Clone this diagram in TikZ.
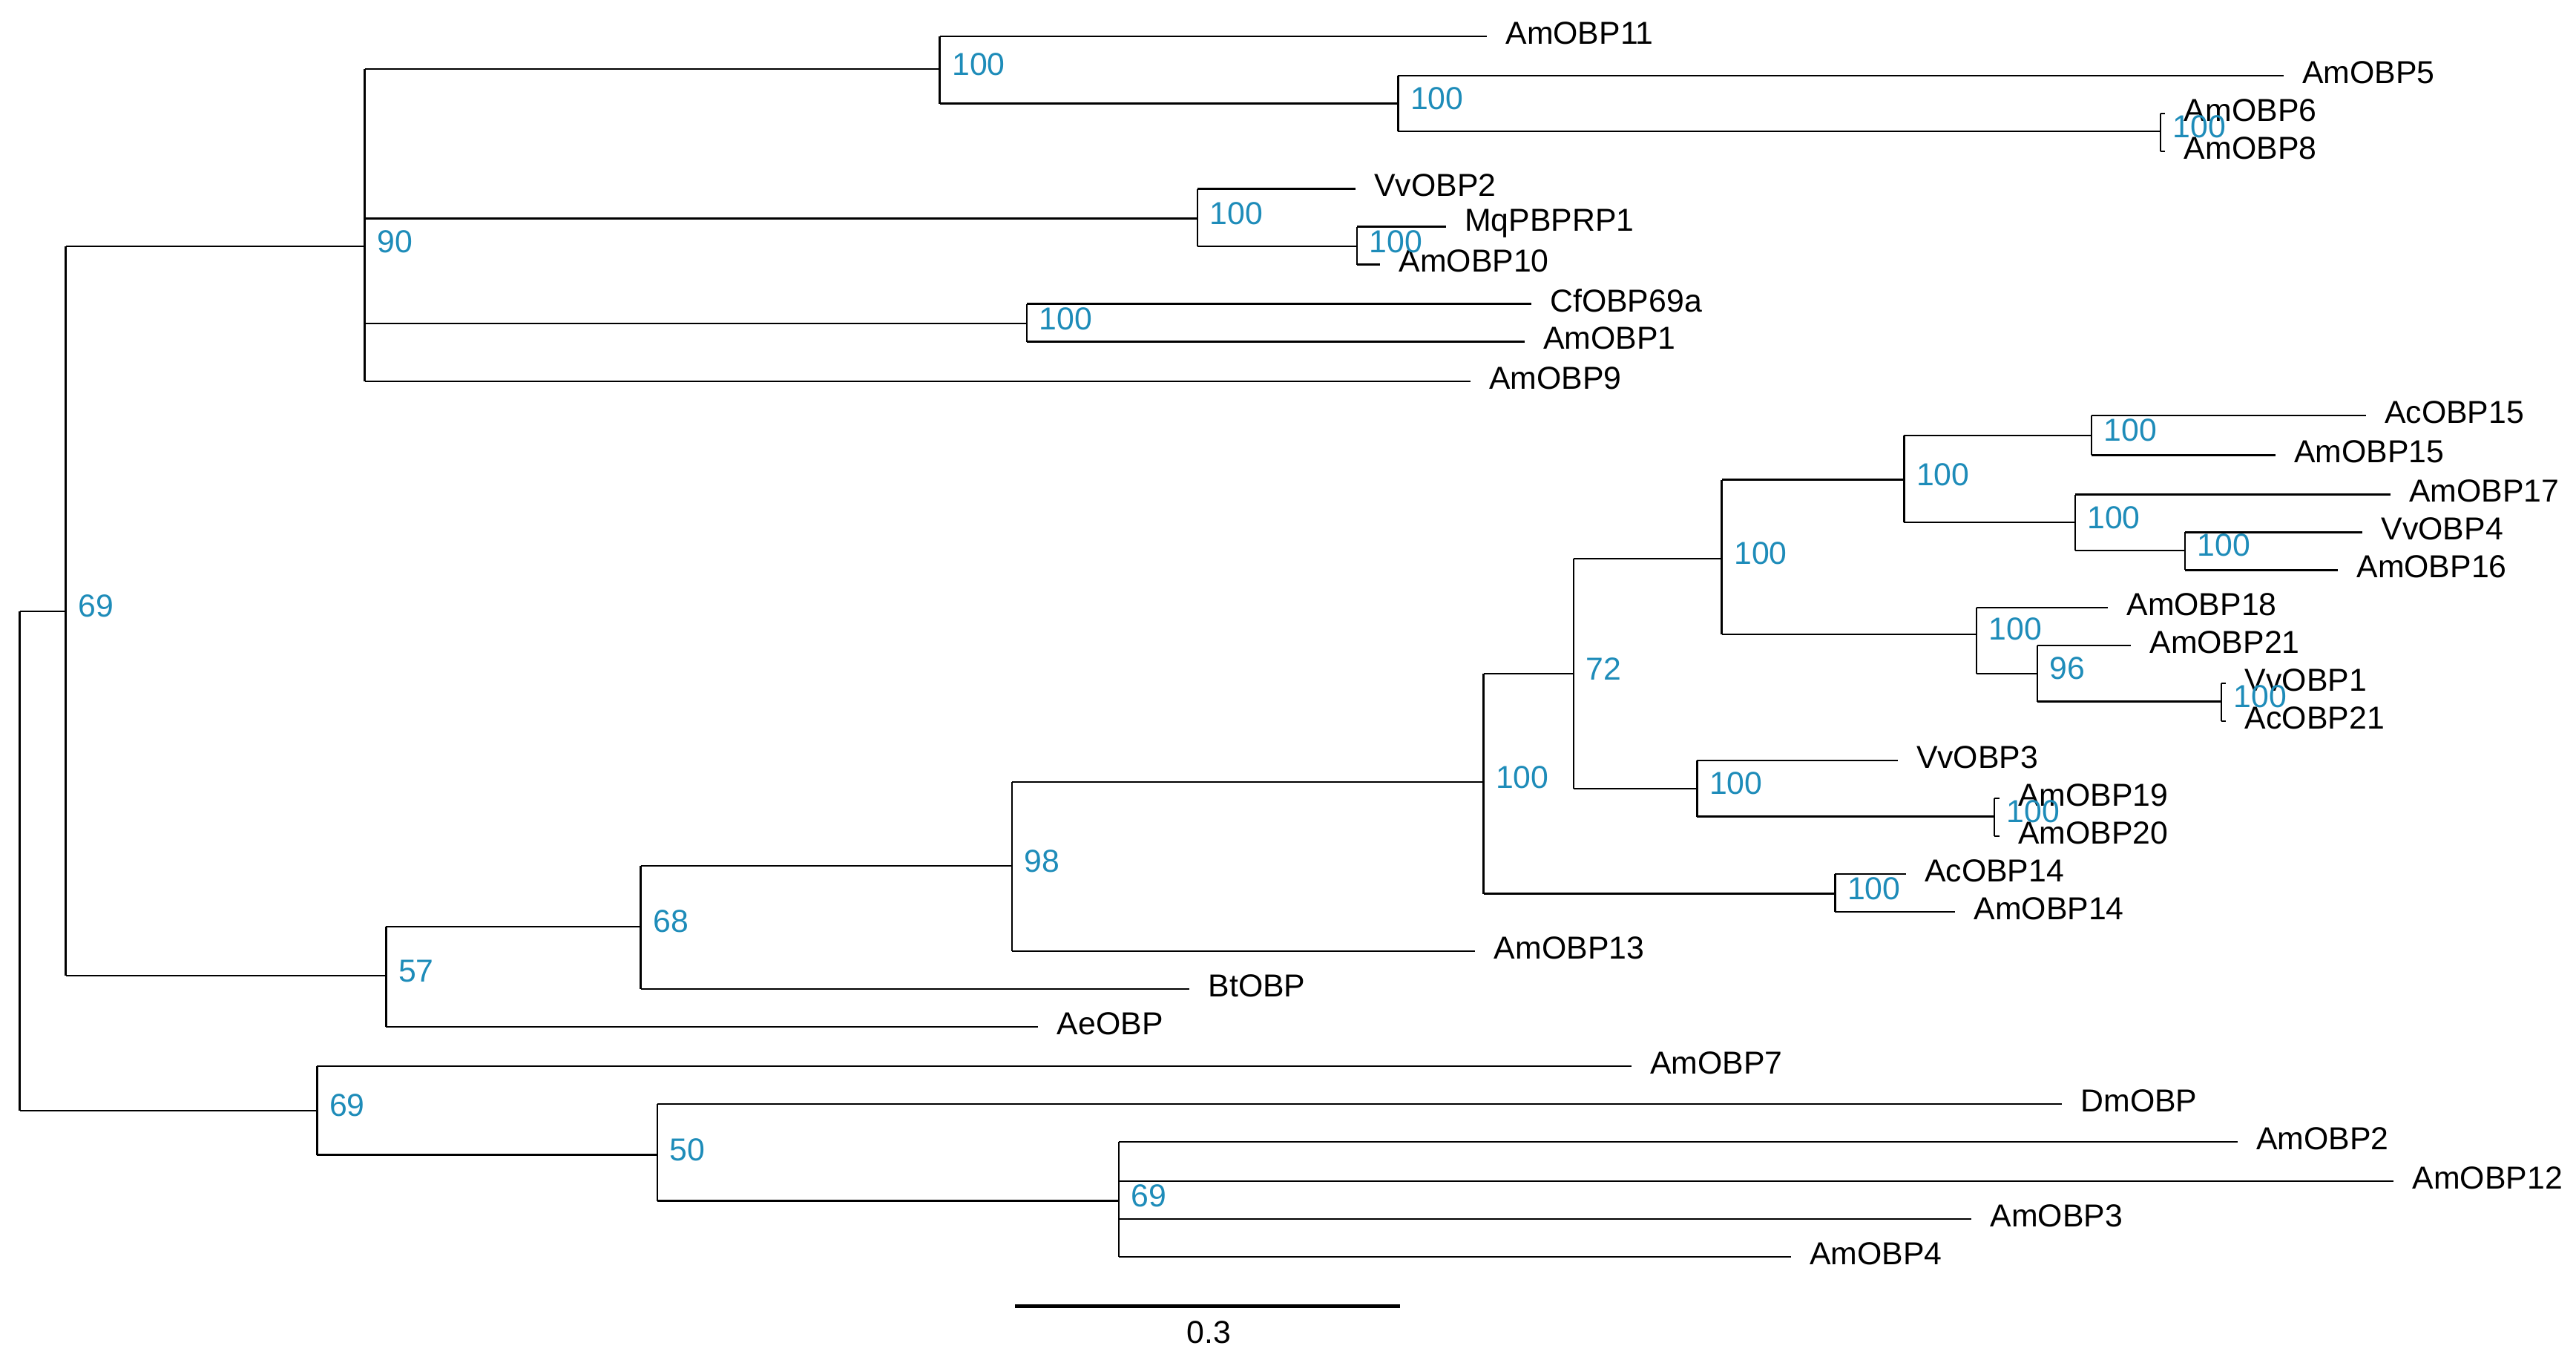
\documentclass[tikz,border=0pt]{standalone}
\usepackage{fontspec}
\setmainfont{Liberation Sans}
\definecolor{bs}{RGB}{30,140,185}
\begin{document}
\begin{tikzpicture}[x=0.02cm,y=-0.02cm,line width=0.6pt,
  lab/.style={anchor=west,inner sep=0pt,xshift=0.22cm,yshift=0.04cm,font=\fontsize{11}{12}\selectfont},
  bsl/.style={anchor=west,inner sep=0pt,xshift=0.14cm,yshift=0.06cm,text=bs,font=\fontsize{11}{12}\selectfont}]
\useasboundingbox (0,0) rectangle (1568,825.6);
\newcommand\tip[4]{\coordinate (#1) at (#2,#3); \node[lab] (#1l) at (#1) {#4};}
\newcommand\inn[4]{\coordinate (#1) at (#2,#3); \ifx&#4&\else\node[bsl] (#1b) at (#1) {#4};\fi}
\newcommand\clade[4]{\foreach \c in {#2} {\draw (#1 |- \c) -- (\c);} \draw (#1 |- #3) -- (#1 |- #4);}
% tips
\tip{a11}{905}{22}{AmOBP11}
\tip{a5}{1390}{46}{AmOBP5}
\tip{a6}{1318}{69}{AmOBP6}
\tip{a8}{1318}{92}{AmOBP8}
\tip{v2}{825}{115}{VvOBP2}
\tip{mq}{880}{138}{MqPBPRP1}
\tip{a10}{840}{161}{AmOBP10}
\tip{cf}{932}{185}{CfOBP69a}
\tip{a1}{928}{208}{AmOBP1}
\tip{a9}{895}{232}{AmOBP9}
\tip{c15}{1440}{253}{AcOBP15}
\tip{a15}{1385}{277}{AmOBP15}
\tip{a17}{1455}{301}{AmOBP17}
\tip{v4}{1438}{324}{VvOBP4}
\tip{a16}{1423}{347}{AmOBP16}
\tip{a18}{1283}{370}{AmOBP18}
\tip{a21}{1297}{393}{AmOBP21}
\tip{v1}{1355}{416}{VvOBP1}
\tip{c21}{1355}{439}{AcOBP21}
\tip{v3}{1155}{463}{VvOBP3}
\tip{a19}{1217}{486}{AmOBP19}
\tip{a20}{1217}{509}{AmOBP20}
\tip{c14}{1160}{532}{AcOBP14}
\tip{a14}{1190}{555}{AmOBP14}
\tip{a13}{898}{579}{AmOBP13}
\tip{bt}{724}{602}{BtOBP}
\tip{ae}{632}{625}{AeOBP}
\tip{a7}{993}{649}{AmOBP7}
\tip{dm}{1255}{672}{DmOBP}
\tip{a2}{1362}{695}{AmOBP2}
\tip{a12}{1457}{719}{AmOBP12}
\tip{a3}{1200}{742}{AmOBP3}
\tip{a4}{1090}{765}{AmOBP4}
% internal nodes
\inn{nI}{1315}{80}{100}
\inn{nH}{851}{63}{100}
\inn{nE}{572}{42}{100}
\inn{nJ}{826}{150}{100}
\inn{nF}{729}{133}{100}
\inn{nG}{625}{197}{100}
\inn{nC}{222}{150}{90}
\inn{nK}{1273}{265}{100}
\inn{nN}{1330}{335}{100}
\inn{nM}{1263}{318}{100}
\inn{nL}{1159}{292}{100}
\inn{nP}{1352}{427}{100}
\inn{nQ}{1240}{410}{96}
\inn{nO}{1203}{386}{100}
\inn{nR}{1048}{340}{100}
\inn{nT}{1214}{497}{100}
\inn{nS}{1033}{480}{100}
\inn{nU}{958}{410}{72}
\inn{nV}{1117}{544}{100}
\inn{nW}{903}{476}{100}
\inn{nX}{616}{527}{98}
\inn{nY}{390}{564}{68}
\inn{nD}{235}{594}{57}
\inn{nA}{40}{372}{69}
\inn{nAA}{681}{731}{69}
\inn{nZ}{400}{703}{50}
\inn{nB}{193}{676}{69}
\inn{root}{12}{372}{}
% clades
\clade{nI}{a6,a8}{a6}{a8}
\clade{nH}{a5,nI}{a5}{nI}
\clade{nE}{a11,nH}{a11}{nH}
\clade{nJ}{mq,a10}{mq}{a10}
\clade{nF}{v2,nJ}{v2}{nJ}
\clade{nG}{cf,a1}{cf}{a1}
\clade{nC}{nE,nF,nG,a9}{nE}{a9}
\clade{nK}{c15,a15}{c15}{a15}
\clade{nN}{v4,a16}{v4}{a16}
\clade{nM}{a17,nN}{a17}{nN}
\clade{nL}{nK,nM}{nK}{nM}
\clade{nP}{v1,c21}{v1}{c21}
\clade{nQ}{a21,nP}{a21}{nP}
\clade{nO}{a18,nQ}{a18}{nQ}
\clade{nR}{nL,nO}{nL}{nO}
\clade{nT}{a19,a20}{a19}{a20}
\clade{nS}{v3,nT}{v3}{nT}
\clade{nU}{nR,nS}{nR}{nS}
\clade{nV}{c14,a14}{c14}{a14}
\clade{nW}{nU,nV}{nU}{nV}
\clade{nX}{nW,a13}{nW}{a13}
\clade{nY}{nX,bt}{nX}{bt}
\clade{nD}{nY,ae}{nY}{ae}
\clade{nA}{nC,nD}{nC}{nD}
\clade{nAA}{a2,a12,a3,a4}{a2}{a4}
\clade{nZ}{dm,nAA}{dm}{nAA}
\clade{nB}{a7,nZ}{a7}{nZ}
\clade{root}{nA,nB}{nA}{nB}
% scale bar
\coordinate (s1) at (618,795); \coordinate (s2) at (852,795);
\draw[line width=1.4pt] (s1) -- (s2);
\node[font=\fontsize{11}{12}\selectfont] (sl) at (736,811) {0.3};
\end{tikzpicture}
\end{document}
